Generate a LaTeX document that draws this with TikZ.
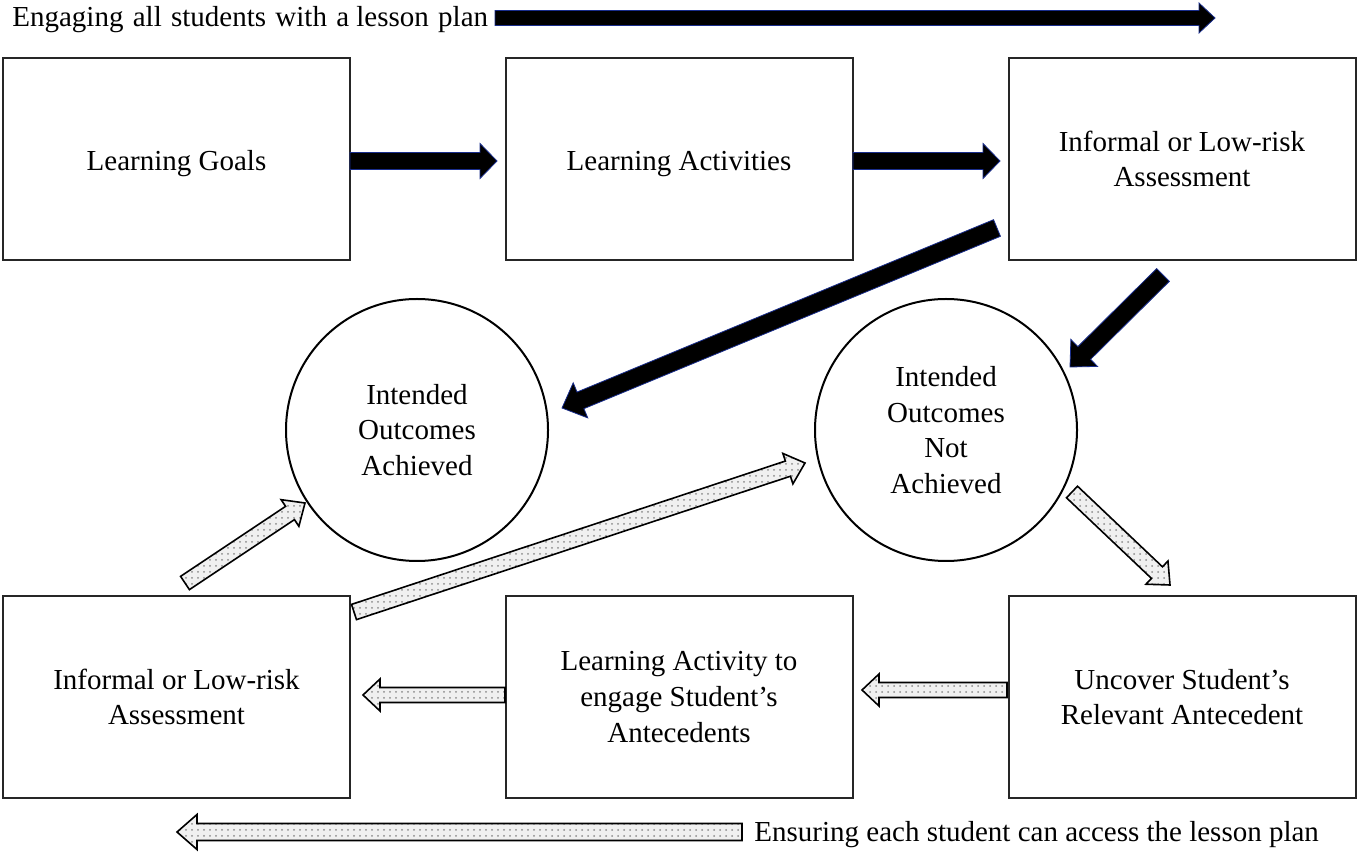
\documentclass[tikz,border=0pt]{standalone}
\usepackage{fontspec}
\setmainfont{Liberation Serif}
\usetikzlibrary{calc,patterns}
\newcommand{\blockarrow}[6][]{%
  \coordinate (bas) at #2; \coordinate (bae) at #3;
  \coordinate (bah) at ($(bae)!#6!(bas)$);
  \draw[#1] ($(bas)!#4!90:(bae)$) -- ($(bah)!#4!-90:(bas)$) -- ($(bah)!#5!-90:(bas)$) -- (bae) -- ($(bah)!#5!90:(bas)$) -- ($(bah)!#4!90:(bas)$) -- ($(bas)!#4!-90:(bae)$) -- cycle;}
\begin{document}
\begin{tikzpicture}[x=0.5pt,y=-0.5pt,
  txt/.style={font=\fontsize{14.5}{17.9}\selectfont, align=center},
  box/.style={txt, draw=black!85, line width=1pt, minimum width=173.5pt, minimum height=101pt, inner sep=0pt},
  oneline/.style={text height=12pt, text depth=0pt},
  circ/.style={txt, draw=black, line width=1pt, circle, minimum size=131pt, inner sep=0pt},
  blackarrow/.style={fill=black, draw={rgb,255:red,25;green,45;blue,140}, line width=0.4pt, line join=miter},
  dotarrow/.style={draw=black, line width=0.8pt, preaction={fill=gray!12}, pattern=dots, pattern color=gray!90, line join=miter}]
\useasboundingbox (0,0) rectangle (1359,854);
% boxes
\node[box, oneline] (g) at (176.5,159) {Learning Goals};
\node[box, oneline] (la) at (679,159) {Learning Activities};
\node[box] (ia) at (1182,159) {Informal or Low-risk\\Assessment};
\node[box] (ib) at (176.5,697) {Informal or Low-risk\\Assessment};
\node[box] (le) at (679,697) {Learning Activity to\\engage Student's\\Antecedents};
\node[box] (uc) at (1182,697) {Uncover Student's\\Relevant Antecedent};
% circles
\node[circ] (ach) at (417,430) {Intended\\Outcomes\\Achieved};
\node[circ] (nach) at (946,430) {Intended\\Outcomes\\Not\\Achieved};
% texts
\node[txt, anchor=base west, inner sep=0pt] (top) at (12,27) {Engaging\hspace{0.32em}all\hspace{0.32em}students\hspace{0.32em}with\hspace{0.32em}a lesson\hspace{0.32em}plan};
\node[txt, anchor=base west, inner sep=0pt] (bot) at (754,841) {Ensuring each student can access the lesson plan};
% arrow endpoints
\coordinate (t1) at (495,18); \coordinate (t2) at (1215,18);
\coordinate (a1) at (350,161); \coordinate (a2) at (497,161);
\coordinate (b1) at (853,161); \coordinate (b2) at (1000,161);
\coordinate (c1) at (997,228); \coordinate (c2) at (562,408);
\coordinate (d1) at (1163,275); \coordinate (d2) at (1070,367);
\coordinate (e1) at (185,583); \coordinate (e2) at (305,503);
\coordinate (f1) at (354,612); \coordinate (f2) at (805,463);
\coordinate (h1) at (1072,492); \coordinate (h2) at (1170,585);
\coordinate (i1) at (505,695); \coordinate (i2) at (363,695);
\coordinate (j1) at (1007,690); \coordinate (j2) at (862,690);
\coordinate (k1) at (742,832); \coordinate (k2) at (177,832);
% black arrows
\blockarrow[blackarrow]{(t1)}{(t2)}{3.75pt}{7.5pt}{8pt}
\blockarrow[blackarrow]{(a1)}{(a2)}{4.25pt}{8.75pt}{8.5pt}
\blockarrow[blackarrow]{(b1)}{(b2)}{4.25pt}{8.75pt}{8.5pt}
\blockarrow[blackarrow]{(c1)}{(c2)}{4.5pt}{9.5pt}{10pt}
\blockarrow[blackarrow]{(d1)}{(d2)}{4.5pt}{9.5pt}{10pt}
% dotted arrows
\blockarrow[dotarrow]{(e1)}{(e2)}{4pt}{8pt}{9pt}
\blockarrow[dotarrow]{(f1)}{(f2)}{4pt}{8pt}{9pt}
\blockarrow[dotarrow]{(h1)}{(h2)}{4pt}{8pt}{9pt}
\blockarrow[dotarrow]{(i1)}{(i2)}{3.75pt}{8pt}{8.5pt}
\blockarrow[dotarrow]{(j1)}{(j2)}{3.75pt}{8pt}{8.5pt}
\blockarrow[dotarrow]{(k1)}{(k2)}{4.25pt}{8.75pt}{10pt}
\end{tikzpicture}
\end{document}
